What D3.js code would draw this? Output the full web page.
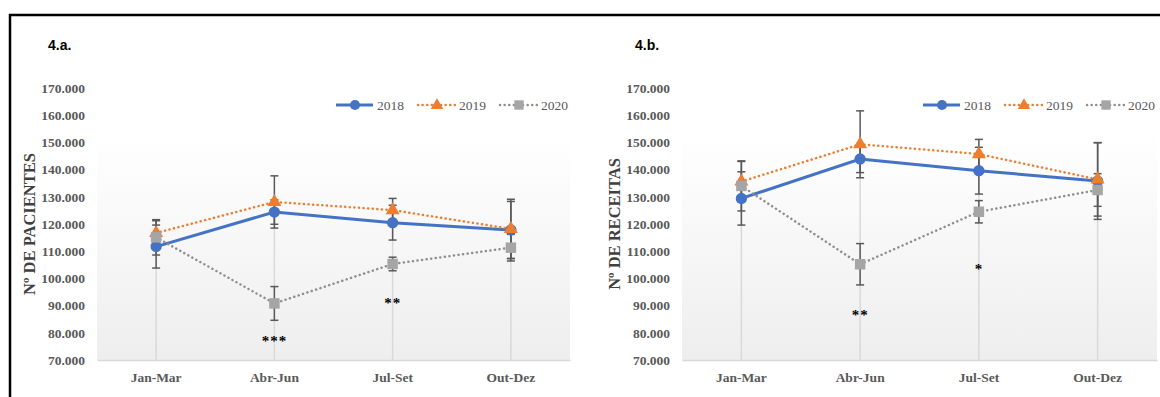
<!DOCTYPE html>
<html>
<head>
<meta charset="utf-8">
<script src="https://cdn.jsdelivr.net/npm/d3@7"></script>
<style>
  body { margin: 0; background: #fff; }
  svg { display: block; }
  .serif text, text.serif { font-family: "Liberation Serif", "Times New Roman", serif; }
</style>
</head>
<body>
<svg id="chart" width="1160" height="397"></svg>
<script>
// quarters and years
const quarters = ['Jan-Mar', 'Abr-Jun', 'Jul-Set', 'Out-Dez']
const years = ['2018', '2019', '2020']
const yTicks = [70000, 80000, 90000, 100000, 110000, 120000, 130000, 140000, 150000, 160000, 170000]

// 4.a. patients
const pac2018 = [111700, 124400, 120500, 117800]
const pac2019 = [116700, 128100, 125100, 118200]
const pac2020 = [115100, 90800, 105300, 111300]
const pacErr2018 = [7900, 4500, 6400, 10500]
const pacErr2019 = [4500, 9600, 4300, 10900]
const pacErr2020 = [6500, 6200, 2500, 4900]
const pacStars = ['', '***', '**', '']

// 4.b. prescriptions
const rec2018 = [129400, 143900, 139600, 135800]
const rec2019 = [135600, 149300, 145700, 136400]
const rec2020 = [134000, 105200, 124500, 132500]
const recErr2018 = [9800, 5000, 8600, 14100]
const recErr2019 = [7400, 12300, 5400, 13500]
const recErr2020 = [9200, 7600, 4100, 6000]
const recStars = ['', '**', '*', '']

const colors = {'2018': '#4472c4', '2019': '#ed7d31', '2020': '#a5a5a5'}
const lineColors = {'2018': '#4472c4', '2019': '#ed7d31', '2020': '#8f8f8f'}
const SERIF = '"Liberation Serif", "Times New Roman", serif'

const svg = d3.select('#chart')
const fmt = d => d3.format(',')(d).replace(/,/g, '.')

const defs = svg.append('defs')
const grad = defs.append('linearGradient')
      .attr('id', 'bg').attr('x1', 0).attr('y1', 0).attr('x2', 0).attr('y2', 1)
grad.append('stop').attr('offset', '0%').attr('stop-color', '#ffffff')
grad.append('stop').attr('offset', '100%').attr('stop-color', '#eeeeee')

// frame of the figure
svg.append('line').attr('x1', 9).attr('x2', 1160).attr('y1', 15).attr('y2', 15)
   .attr('stroke', '#000').attr('stroke-width', 2.5)
svg.append('line').attr('x1', 10).attr('x2', 10).attr('y1', 14).attr('y2', 397)
   .attr('stroke', '#000').attr('stroke-width', 2.5)

const drawPanel = (p) => {
    const g = svg.append('g').attr('transform', `translate(${p.left},0)`)
    const width = p.width
    const top = 133, bottom = 360

    const x = d3.scaleBand().domain(quarters).range([0, width])
    const cx = d => x(d) + x.bandwidth() / 2
    const y = d3.scaleLinear().domain([70000, 170000]).range([bottom, 88])

    g.append('rect').attr('x', 0).attr('y', top).attr('width', width).attr('height', bottom - top)
     .attr('fill', 'url(#bg)')

    // title
    svg.append('text').attr('x', p.titleX).attr('y', 50)
       .style('font-family', '"Liberation Sans", Arial, sans-serif').style('font-weight', 'bold')
       .style('font-size', '14px').attr('fill', '#000').text(p.title)

    // y axis
    const yAxis = g.append('g').call(d3.axisLeft(y).tickValues(yTicks).tickFormat(fmt).tickSize(0).tickPadding(12))
    yAxis.attr('font-family', SERIF).attr('font-size', 13.5).attr('font-weight', 'bold').classed('serif', true)
    yAxis.select('.domain').remove()
    yAxis.selectAll('text').attr('fill', '#595959')

    g.append('text').classed('serif', true)
     .attr('transform', `translate(${p.labelX - p.left},224) rotate(-90)`)
     .attr('text-anchor', 'middle').attr('dy', '0.35em')
     .attr('font-weight', 'bold').attr('font-size', 16.5).attr('fill', '#404040').text(p.yLabel)

    // drop lines
    g.selectAll('.drop').data(quarters).enter().append('line')
     .attr('x1', cx).attr('x2', cx)
     .attr('y1', (d, i) => y(d3.max(p.series, s => s.values[i]))).attr('y2', bottom)
     .attr('stroke', '#d9d9d9').attr('stroke-width', 1.5)

    // x axis
    const xAxis = g.append('g').attr('transform', `translate(0,${bottom})`)
                   .call(d3.axisBottom(x).tickSize(0).tickPadding(12))
    xAxis.attr('font-family', SERIF).attr('font-size', 13.5).attr('font-weight', 'bold').classed('serif', true)
    xAxis.select('.domain').attr('stroke', '#d9d9d9').attr('stroke-width', 1.5)
    xAxis.selectAll('text').attr('fill', '#595959')

    // error bars
    p.series.forEach(s => {
        const eb = g.append('g')
        s.values.forEach((v, i) => {
            const xx = cx(quarters[i])
            const y1 = y(v + s.err[i]), y2 = y(v - s.err[i])
            eb.append('line').attr('x1', xx).attr('x2', xx).attr('y1', y1).attr('y2', y2)
              .attr('stroke', '#595959').attr('stroke-width', 1.5)
            ;[y1, y2].forEach(yy => eb.append('line').attr('x1', xx - 4).attr('x2', xx + 4)
              .attr('y1', yy).attr('y2', yy).attr('stroke', '#595959').attr('stroke-width', 1.5))
        })
    })

    // lines and markers
    const line = d3.line().x((d, i) => cx(quarters[i])).y(d => y(d))
    p.series.forEach(s => {
        const path = g.append('path').datum(s.values).attr('d', line)
          .attr('fill', 'none').attr('stroke', lineColors[s.year])
        if (s.year === '2018') path.attr('stroke-width', 3)
        else path.attr('stroke-width', 2.5).attr('stroke-dasharray', '0.1 4.5').attr('stroke-linecap', 'round')
    })
    const symbols = {'2018': d3.symbolCircle, '2019': d3.symbolTriangle, '2020': d3.symbolSquare}
    const sizes = {'2018': 100, '2019': 85, '2020': 110}
    p.series.forEach(s => {
        g.selectAll(null).data(s.values).enter().append('path')
         .attr('transform', (d, i) => `translate(${cx(quarters[i])},${y(d)})`)
         .attr('d', d3.symbol().type(symbols[s.year]).size(sizes[s.year]))
         .attr('fill', colors[s.year])
    })

    // significance marks
    g.selectAll('.star').data(p.stars).enter().append('text').classed('serif', true)
     .attr('x', (d, i) => cx(quarters[i])).attr('y', d => y(d.pos) + 6)
     .attr('text-anchor', 'middle')
     .attr('font-weight', 'bold').attr('font-size', 15).style('letter-spacing', '1px').attr('fill', '#000')
     .text(d => d.text)

    // legend
    const lg = svg.append('g').attr('transform', `translate(${p.legendX},105)`)
    years.forEach((yr, i) => {
        const o = i * 82
        const l = lg.append('line').attr('x1', o).attr('x2', o + 37).attr('y1', 0).attr('y2', 0)
          .attr('stroke', lineColors[yr])
        if (yr === '2018') l.attr('stroke-width', 3)
        else l.attr('stroke-width', 2.5).attr('stroke-dasharray', '0.1 4.5').attr('stroke-linecap', 'round')
        lg.append('path').attr('transform', `translate(${o + 19},${yr === '2019' ? 0.5 : 0})`)
          .attr('d', d3.symbol().type(symbols[yr]).size(sizes[yr] * 0.8)).attr('fill', colors[yr])
        lg.append('text').classed('serif', true).attr('x', o + 41).attr('y', 0).attr('dy', '0.35em')
          .attr('font-size', 13.5).attr('fill', '#595959').text(yr)
    })
}

drawPanel({
    left: 97, width: 473, titleX: 48, labelX: 29, legendX: 336,
    title: '4.a.', yLabel: 'Nº DE PACIENTES',
    series: [
        {year: '2018', values: pac2018, err: pacErr2018},
        {year: '2019', values: pac2019, err: pacErr2019},
        {year: '2020', values: pac2020, err: pacErr2020}
    ],
    stars: pacStars.map((t, i) => ({text: t, pos: [0, 77500, 91500, 0][i]}))
})

drawPanel({
    left: 682, width: 475, titleX: 635, labelX: 614, legendX: 923,
    title: '4.b.', yLabel: 'Nº DE RECEITAS',
    series: [
        {year: '2018', values: rec2018, err: recErr2018},
        {year: '2019', values: rec2019, err: recErr2019},
        {year: '2020', values: rec2020, err: recErr2020}
    ],
    stars: recStars.map((t, i) => ({text: t, pos: [0, 87000, 103800, 0][i]}))
})
</script>
</body>
</html>
